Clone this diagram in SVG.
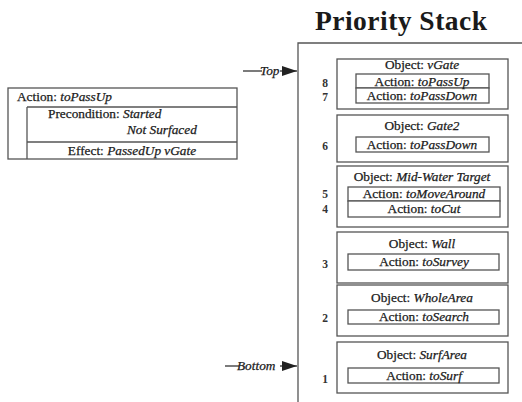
<svg xmlns="http://www.w3.org/2000/svg" width="522" height="402" viewBox="0 0 522 402">
  <defs>
    <marker id="head" markerWidth="15" markerHeight="10" refX="15" refY="5" orient="auto" markerUnits="userSpaceOnUse">
      <path d="M0,0 L15,5 L0,10 Z" fill="#222"/>
    </marker>
    <style>
      .box { fill: #fff; stroke: #555; stroke-width: 1.3; }
      .ln { stroke: #555; stroke-width: 1.3; fill: none; }
      .t { font-family: "Liberation Serif", "Times New Roman", serif; font-size: 13.3px; fill: #1a1a1a; stroke: #1a1a1a; stroke-width: 0.25; }
      .c { text-anchor: middle; }
      .i { font-style: italic; }
      .num { font-family: "Liberation Serif", "Times New Roman", serif; font-size: 11.5px; font-weight: bold; fill: #333; text-anchor: middle; }
      .title { font-family: "Liberation Serif", "Times New Roman", serif; font-size: 27.5px; font-weight: bold; fill: #1a1a1a; text-anchor: middle; }
      .arrow { stroke: #333; stroke-width: 1.3; fill: none; }
    </style>
  </defs>

  <rect width="522" height="402" fill="#fff"/>

  <!-- Action description on the left -->
  <g id="action-toPassUp">
    <rect class="box" x="8" y="88" width="229" height="71"/>
    <line class="ln" x1="27" y1="107" x2="237" y2="107"/>
    <line class="ln" x1="27" y1="107" x2="27" y2="159"/>
    <line class="ln" x1="27" y1="142" x2="237" y2="142"/>
    <text class="t" x="17" y="101">Action: <tspan class="i">toPassUp</tspan></text>
    <text class="t" x="48" y="118">Precondition: <tspan class="i">Started</tspan></text>
    <text class="t i" x="127" y="134">Not Surfaced</text>
    <text class="t c" x="132" y="155">Effect: <tspan class="i">PassedUp vGate</tspan></text>
  </g>

  <!-- Stack frame -->
  <g id="priority-stack">
    <text class="title" x="401" y="30" textLength="172" lengthAdjust="spacing">Priority Stack</text>
    <path class="ln" d="M298,402 L298,43 L522,43"/>
  </g>

  <g id="obj-vGate">
    <rect class="box" x="337" y="59" width="171" height="50"/>
    <text class="t c" x="422" y="69">Object: <tspan class="i">vGate</tspan></text>
    <rect class="box" x="356" y="74" width="133" height="14"/>
    <rect class="box" x="356" y="88" width="133" height="15"/>
    <text class="t c" x="422" y="86">Action: <tspan class="i">toPassUp</tspan></text>
    <text class="t c" x="422" y="100">Action: <tspan class="i">toPassDown</tspan></text>
    <text class="num" x="325" y="87">8</text>
    <text class="num" x="325" y="100.5">7</text>
  </g>

  <g id="obj-Gate2">
    <rect class="box" x="337" y="115" width="171" height="47"/>
    <text class="t c" x="422" y="130">Object: <tspan class="i">Gate2</tspan></text>
    <rect class="box" x="356" y="137" width="133" height="15"/>
    <text class="t c" x="422" y="149">Action: <tspan class="i">toPassDown</tspan></text>
    <text class="num" x="325" y="150">6</text>
  </g>

  <g id="obj-MidWaterTarget">
    <rect class="box" x="337" y="166" width="171" height="61"/>
    <text class="t c" x="422" y="181">Object: <tspan class="i">Mid-Water Target</tspan></text>
    <rect class="box" x="348" y="187" width="152" height="14"/>
    <rect class="box" x="348" y="201" width="152" height="16"/>
    <text class="t c" x="424" y="198">Action: <tspan class="i">toMoveAround</tspan></text>
    <text class="t c" x="424" y="213">Action: <tspan class="i">toCut</tspan></text>
    <text class="num" x="325" y="198">5</text>
    <text class="num" x="325" y="213">4</text>
  </g>

  <g id="obj-Wall">
    <rect class="box" x="337" y="232" width="171" height="51"/>
    <text class="t c" x="422" y="248">Object: <tspan class="i">Wall</tspan></text>
    <rect class="box" x="348" y="254" width="151" height="16"/>
    <text class="t c" x="424" y="266">Action: <tspan class="i">toSurvey</tspan></text>
    <text class="num" x="325" y="268">3</text>
  </g>

  <g id="obj-WholeArea">
    <rect class="box" x="337" y="285" width="171" height="51"/>
    <text class="t c" x="422" y="302">Object: <tspan class="i">WholeArea</tspan></text>
    <rect class="box" x="348" y="310" width="151" height="14"/>
    <text class="t c" x="424" y="321">Action: <tspan class="i">toSearch</tspan></text>
    <text class="num" x="325" y="322">2</text>
  </g>

  <g id="obj-SurfArea">
    <rect class="box" x="337" y="342" width="171" height="51"/>
    <text class="t c" x="422" y="359">Object: <tspan class="i">SurfArea</tspan></text>
    <rect class="box" x="348" y="368" width="151" height="15"/>
    <text class="t c" x="424" y="380">Action: <tspan class="i">toSurf</tspan></text>
    <text class="num" x="325" y="383">1</text>
  </g>

  <!-- Top / Bottom pointers -->
  <g id="connectors">
    <line class="arrow" x1="243" y1="71" x2="262" y2="71"/>
    <line class="arrow" x1="280" y1="71" x2="297" y2="71" marker-end="url(#head)"/>
    <text class="t i" x="260" y="75">Top</text>
    <line class="arrow" x1="225" y1="366" x2="239" y2="366"/>
    <line class="arrow" x1="280" y1="366" x2="297" y2="366" marker-end="url(#head)"/>
    <text class="t i" x="237" y="370">Bottom</text>
  </g>
</svg>
